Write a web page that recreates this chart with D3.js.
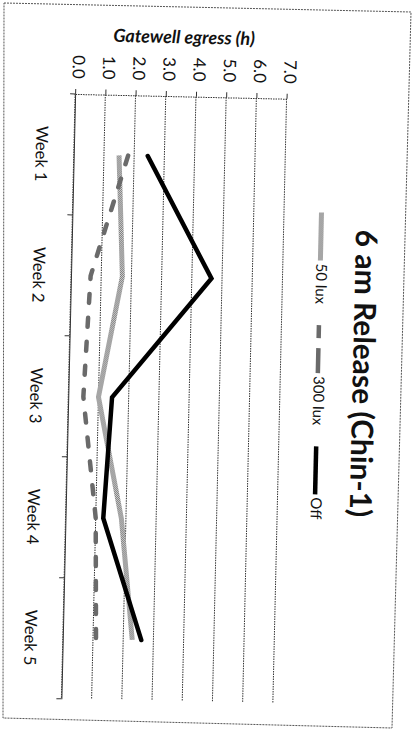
<!DOCTYPE html>
<html><head><meta charset="utf-8">
<script src="https://cdn.jsdelivr.net/npm/d3@7"></script>
<style>html,body{margin:0;padding:0;background:#fff;} svg{display:block}</style>
</head><body>
<script>
const weeks = ["Week 1","Week 2","Week 3","Week 4","Week 5"];
const lux50 = [1.5, 1.7, 1.0, 1.85, 2.3];
const lux300 = [1.8, 0.65, 0.5, 1.0, 1.1];
const off = [2.45, 4.65, 1.45, 1.25, 2.6];
const valueTicks = [0, 1, 2, 3, 4, 5, 6, 7];
const seriesNames = ["50 lux", "300 lux", "Off"];
const titleText = "6 am Release (Chin-1)";
const axisTitle = "Gatewell egress (h)";

const W = 417, H = 730;
const FONT = "Lato, 'Open Sans', sans-serif";
const svg = d3.select("body").append("svg").attr("width", W).attr("height", H);
const defs = svg.append("defs");
const pat = defs.append("pattern").attr("id", "tex").attr("patternUnits", "userSpaceOnUse").attr("width", 2).attr("height", 2);
pat.append("rect").attr("width", 2).attr("height", 2).attr("fill", "#cfcfcf");
pat.append("rect").attr("width", 1).attr("height", 1).attr("fill", "#7d7d7d");
pat.append("rect").attr("x", 1).attr("y", 1).attr("width", 1).attr("height", 1).attr("fill", "#7d7d7d");

// outer (scanned) chart border
svg.append("path").attr("d", "M4,3 L411,12 L392,728 L3,718 Z")
  .attr("fill", "none").attr("stroke", "#555").attr("stroke-width", 1).attr("stroke-dasharray", "2,1");

// whole scanned chart is slightly tilted
const g = svg.append("g").attr("transform", "rotate(1.3,208,365)");

const x = d3.scaleLinear().domain([0, 7]).range([69, 280.5]);
const y = d3.scaleBand().domain(weeks).range([97, 702]);
const y0 = y.range()[0], y1 = y.range()[1];

// gridlines
g.append("g").selectAll("line").data(valueTicks).join("line")
  .attr("x1", d => x(d)).attr("x2", d => x(d)).attr("y1", y0).attr("y2", y1)
  .attr("stroke", "#333").attr("stroke-width", 1).attr("stroke-dasharray", "1.5,1");

// value axis (top in rotated view)
const vAxis = g.append("g").attr("transform", `translate(0,${y0})`)
  .call(d3.axisTop(x).tickValues(valueTicks).tickFormat(d3.format(".1f")).tickSize(5).tickSizeOuter(0));
vAxis.select(".domain").attr("stroke", "#333").attr("stroke-dasharray", "1.5,1");
vAxis.selectAll(".tick line").attr("stroke", "#333");
vAxis.selectAll(".tick text")
  .attr("x", 0).attr("y", 0).attr("dy", null)
  .attr("transform", "translate(3,-27) rotate(90)")
  .attr("text-anchor", "middle").attr("dominant-baseline", "central")
  .attr("font-family", FONT).attr("font-size", 17).attr("fill", "#111");

// category axis
const cAxis = g.append("g").attr("transform", `translate(${x(0)},0)`)
  .call(d3.axisLeft(y).tickSize(0).tickFormat(""));
cAxis.select(".domain").attr("stroke", "#333");
const bounds = d3.range(weeks.length + 1).map(i => y0 + i * y.step());
g.append("g").selectAll("line").data(bounds).join("line")
  .attr("x1", x(0) - 5).attr("x2", x(0)).attr("y1", d => d).attr("y2", d => d)
  .attr("stroke", "#333");
g.append("g").selectAll("text").data(weeks).join("text")
  .attr("transform", d => `translate(37,${y(d) + y.bandwidth() / 2}) rotate(90)`)
  .attr("text-anchor", "middle").attr("dominant-baseline", "central")
  .attr("font-family", FONT).attr("font-size", 16.5).attr("fill", "#111")
  .text(d => d);

// axis title
g.append("text").attr("x", (x(0) + x(7)) / 2 + 2).attr("y", 37)
  .attr("text-anchor", "middle").attr("dominant-baseline", "central")
  .attr("font-family", FONT).attr("font-size", 18).attr("font-weight", "bold").attr("font-style", "italic")
  .attr("fill", "#111").text(axisTitle);

// series
const line = d3.line().x(d => x(d.v)).y(d => y(d.w) + y.bandwidth() / 2);
const toPts = arr => arr.map((v, i) => ({ v, w: weeks[i] }));
const styles = [
  { data: lux50, stroke: "url(#tex)", width: 5, dash: null, legDash: null, cap: "butt" },
  { data: lux300, stroke: "#6a6a6a", width: 4.5, dash: "9,15", legDash: "13,10,25", cap: "round" },
  { data: off, stroke: "#000", width: 4.5, dash: null, legDash: null, cap: "round" }
];
styles.forEach(s => {
  g.append("path").attr("d", line(toPts(s.data))).attr("fill", "none")
    .attr("stroke", s.stroke).attr("stroke-width", s.width)
    .attr("stroke-dasharray", s.dash).attr("stroke-linecap", s.cap).attr("stroke-linejoin", "miter");
});

// title
g.append("text").attr("transform", "translate(365,370) rotate(90)")
  .attr("text-anchor", "middle").attr("dominant-baseline", "central")
  .attr("font-family", FONT).attr("font-size", 30).attr("font-weight", "bold").attr("fill", "#111")
  .text(titleText);

// legend
const legX = 318;
let pos = 210;
const symLen = 48;
seriesNames.forEach((name, i) => {
  const s = styles[i];
  g.append("line").attr("x1", legX).attr("x2", legX).attr("y1", pos).attr("y2", pos + symLen)
    .attr("stroke", s.stroke).attr("stroke-width", s.width)
    .attr("stroke-dasharray", s.legDash).attr("stroke-linecap", "butt");
  const t = g.append("text").attr("transform", `translate(${legX + 2},${pos + symLen + 3}) rotate(90)`)
    .attr("text-anchor", "start").attr("dominant-baseline", "central")
    .attr("font-family", FONT).attr("font-size", 15).attr("fill", "#111").text(name);
  pos += symLen + 3 + t.node().getComputedTextLength() + 21;
});
</script>
</body></html>
